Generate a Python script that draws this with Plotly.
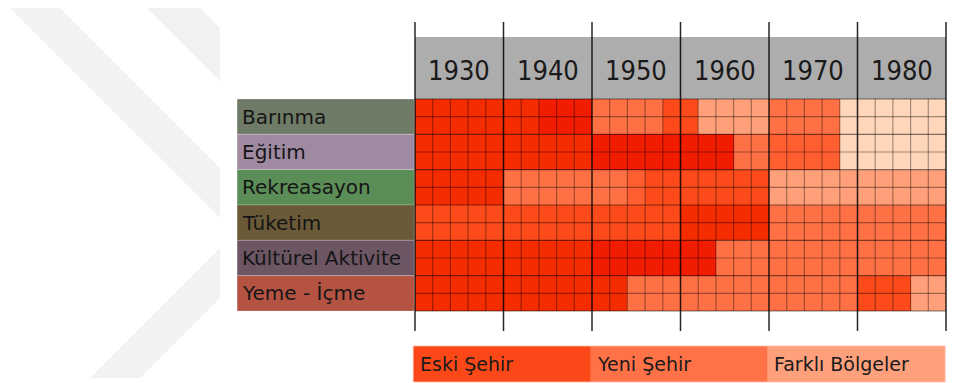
import plotly.graph_objects as go

# ---- data -------------------------------------------------------------
decades = ["1930", "1940", "1950", "1960", "1970", "1980"]
steps_per_decade = 5

categories = ["Barınma", "Eğitim", "Rekreasayon", "Tüketim",
              "Kültürel Aktivite", "Yeme - İçme"]
category_colors = ["#6F7B66", "#A08AA1", "#5B8D57", "#6A5A37",
                   "#6C5663", "#B55343"]
rows_per_category = 2

# location code per time step (1 = deepest red ... 7 = palest)
barinma = [2, 2, 2, 2, 2, 2, 2, 1, 1, 1, 5, 5, 5, 5, 3,
           3, 6, 6, 6, 6, 5, 5, 5, 5, 7, 7, 7, 7, 7, 7]
egitim = [2, 2, 2, 2, 2, 2, 2, 2, 2, 2, 1, 1, 1, 1, 1,
          1, 1, 1, 5, 5, 4, 4, 4, 4, 7, 7, 7, 7, 7, 7]
rekreasayon = [2, 2, 2, 2, 2, 5, 5, 5, 5, 5, 5, 5, 4, 3, 3,
               3, 3, 3, 3, 3, 6, 6, 6, 6, 6, 6, 6, 6, 6, 6]
tuketim = [3, 3, 3, 3, 3, 3, 3, 3, 3, 3, 3, 3, 3, 3, 3,
           2, 2, 2, 2, 2, 5, 5, 5, 5, 5, 5, 5, 5, 5, 5]
kulturel = [2, 2, 2, 2, 2, 2, 2, 2, 2, 2, 1, 1, 1, 1, 1,
            1, 1, 5, 5, 5, 5, 5, 5, 5, 5, 5, 5, 5, 5, 5]
yeme_icme = [2, 2, 2, 2, 2, 2, 2, 2, 2, 2, 2, 2, 5, 5, 5,
             5, 5, 5, 5, 5, 5, 5, 5, 5, 5, 3, 3, 3, 6, 6]
series = [barinma, egitim, rekreasayon, tuketim, kulturel, yeme_icme]

level_colors = ["#F21C00", "#F52C00", "#FC4A1A", "#FF5F30",
                "#FF7044", "#FFA07A", "#FFD6BA"]

legend_labels = ["Eski Şehir", "Yeni Şehir", "Farklı Bölgeler"]
legend_colors = ["#FC4818", "#FF7146", "#FFA07C"]

# ---- geometry ---------------------------------------------------------
W, H = 980, 383
n_cols = len(decades) * steps_per_decade
n_rows = len(categories) * rows_per_category
grid_left, grid_right = 415, 946
grid_top, grid_bottom = 99, 311
cw = (grid_right - grid_left) / n_cols
rh = (grid_bottom - grid_top) / n_rows
x_range = [-grid_left / cw, (W - grid_left) / cw]
y_range = [(H - grid_top) / rh, -grid_top / rh]


def ypix(p):
    return (p - grid_top) / rh


# ---- heatmap ----------------------------------------------------------
z = []
for s in series:
    for _ in range(rows_per_category):
        z.append(s)

nlev = len(level_colors)
colorscale = [[i / (nlev - 1), c] for i, c in enumerate(level_colors)]

fig = go.Figure(go.Heatmap(
    z=z,
    x=[i + 0.5 for i in range(n_cols)],
    y=[j + 0.5 for j in range(n_rows)],
    colorscale=colorscale, zmin=1, zmax=nlev,
    showscale=False, hoverinfo="skip",
))

shapes = []
annotations = []

# faint watermark chevrons on the left
wm = "#F2F2F2"


def pp(x, y):
    return f"{x / W:.4f},{1 - y / H:.4f}"


shapes.append(dict(type="path", xref="paper", yref="paper", layer="below",
                   fillcolor=wm, line=dict(width=0),
                   path=f"M{pp(10,8)} L{pp(60,8)} L{pp(220,168)} L{pp(220,298)} "
                        f"L{pp(140,378)} L{pp(90,378)} L{pp(220,248)} L{pp(220,218)} Z"))
shapes.append(dict(type="path", xref="paper", yref="paper", layer="below",
                   fillcolor=wm, line=dict(width=0),
                   path=f"M{pp(147,8)} L{pp(200,8)} L{pp(220,28)} L{pp(220,81)} Z"))

# header band with decade labels
shapes.append(dict(type="rect", x0=0, x1=n_cols, y0=ypix(37), y1=0,
                   fillcolor="#ADADAD", line=dict(width=0), layer="below"))
for i, d in enumerate(decades):
    annotations.append(dict(x=(i + 0.5) * steps_per_decade, y=ypix(70), text=d,
                            showarrow=False, xanchor="center", yanchor="middle",
                            font=dict(family="Liberation Sans Narrow, DejaVu Sans Condensed",
                                      size=27, color="#1A1A1A")))

# category label boxes
for k, (name, col) in enumerate(zip(categories, category_colors)):
    y0 = k * rows_per_category
    shapes.append(dict(type="rect", x0=-10.05, x1=-0.05, y0=y0, y1=y0 + rows_per_category,
                       fillcolor=col, line=dict(width=0.6, color="rgba(255,255,255,0.35)"),
                       layer="below"))
    annotations.append(dict(x=-9.9, y=y0 + rows_per_category / 2, text=name,
                            showarrow=False, xanchor="left", yanchor="middle",
                            font=dict(family="DejaVu Sans", size=20, color="#151515")))

# cell grid lines
for i in range(n_cols + 1):
    if i % steps_per_decade:
        shapes.append(dict(type="line", x0=i, x1=i, y0=0, y1=n_rows, layer="above",
                           line=dict(color="rgba(0,0,0,0.36)", width=1.2)))
for j in range(n_rows + 1):
    strong = j % rows_per_category == 0
    shapes.append(dict(type="line", x0=0, x1=n_cols, y0=j, y1=j, layer="above",
                       line=dict(color="rgba(0,0,0,0.5)" if strong else "rgba(0,0,0,0.38)",
                                 width=1.2)))

# decade dividers, extended above the header and below the grid
for i in range(0, n_cols + 1, steps_per_decade):
    shapes.append(dict(type="line", x0=i, x1=i, y0=ypix(22), y1=ypix(331), layer="above",
                       line=dict(color="rgba(0,0,0,0.85)", width=1.5)))

# period legend bar
seg = n_cols / len(legend_labels)
for k, (lab, col) in enumerate(zip(legend_labels, legend_colors)):
    shapes.append(dict(type="rect", x0=k * seg - 0.1, x1=(k + 1) * seg - 0.05,
                       y0=ypix(346), y1=ypix(382), fillcolor=col,
                       line=dict(width=0), layer="below"))
    annotations.append(dict(x=k * seg + 0.15, y=ypix(364), text=lab,
                            showarrow=False, xanchor="left", yanchor="middle",
                            font=dict(family="DejaVu Sans", size=19, color="#1A1A1A")))
shapes.append(dict(type="rect", x0=-0.1, x1=n_cols - 0.05, y0=ypix(346), y1=ypix(382),
                   line=dict(width=1, color="rgba(255,190,170,0.8)"), layer="below"))

fig.update_layout(
    width=W, height=H, autosize=False,
    margin=dict(l=0, r=0, t=0, b=0),
    paper_bgcolor="white", plot_bgcolor="white",
    xaxis=dict(range=x_range, visible=False, fixedrange=True),
    yaxis=dict(range=y_range, visible=False, fixedrange=True),
    shapes=shapes, annotations=annotations, showlegend=False,
)

fig.write_html("out.html")
